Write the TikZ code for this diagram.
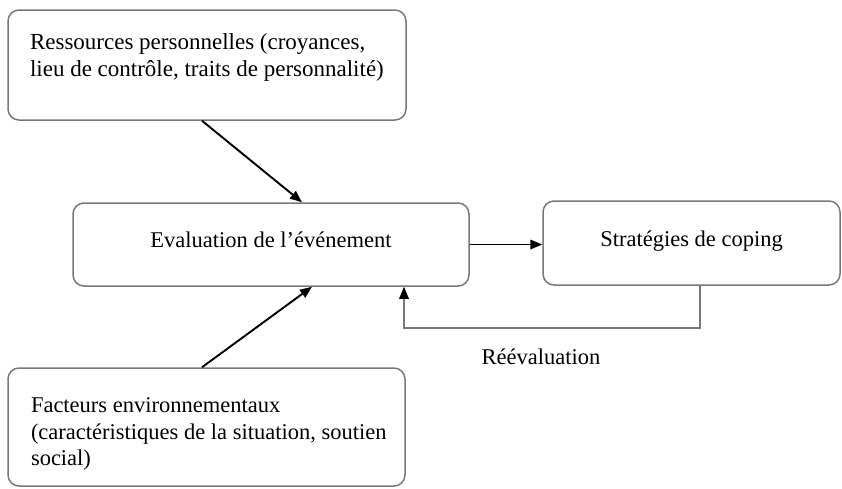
\documentclass[tikz,border=0pt]{standalone}
\usepackage{fontspec}
\setmainfont{Liberation Serif}
\usetikzlibrary{positioning}
\usetikzlibrary{arrows.meta}
\usepackage{xcolor}

\definecolor{cadre}{RGB}{120,120,120}

\tikzset{
  boite/.style={draw=cadre, line width=1.5pt, rounded corners=11pt, inner sep=0pt,
    font=\fontsize{22.5}{26.5}\selectfont},
  fleche/.style={line width=1.9pt, -{Triangle[length=12pt,width=9.5pt]}},
  retour/.style={cadre, line width=1.5pt, -{Triangle[length=12pt,width=9.5pt,black]}}
}

\begin{document}
\begin{tikzpicture}[x=1pt,y=-1pt]
\useasboundingbox (0,0) rectangle (842,488);

%\draw[gray,very thin, step=50, opacity=0.5] (0,0) grid (842,488);

% boites
\node[boite, minimum width=398pt, minimum height=110pt, font=\fontsize{23}{26.5}\selectfont] (ress) at (207,65)
  {\parbox[c][68pt][t]{354pt}{\begin{tabular}{@{}l@{}}
   Ressources personnelles (croyances,\\
   lieu de contrôle, traits de personnalité)\end{tabular}}};
\node[boite, minimum width=396pt, minimum height=83pt, text depth=9pt] (eval) at (271,244.5)
  {Evaluation de l’événement};
\node[boite, minimum width=297pt, minimum height=84pt, text depth=9pt] (strat) at (691.5,243)
  {Stratégies de coping};
\node[boite, minimum width=397pt, minimum height=118pt] (fact) at (206.5,427)
  {\parbox[c][66pt][t]{351pt}{\begin{tabular}{@{}l@{}}
   Facteurs environnementaux\\
   (caractéristiques de la situation, soutien\\
   social)\end{tabular}}};

% fleches
\draw[fleche] ([xshift=-5pt]ress.south) -- ([xshift=31pt]eval.north);
\draw[fleche] ([xshift=-4.5pt]fact.north) -- ([xshift=41pt]eval.south);
\draw[fleche] (eval.east) -- (eval.east -| strat.west);

% reevaluation
\draw[retour] ([xshift=8.5pt]strat.south) -- ++(0,42) -| ([xshift=133pt]eval.south);
\node[font=\fontsize{22.5}{26.5}\selectfont] (reeval) at (541,357) {Réévaluation};

\end{tikzpicture}
\end{document}
